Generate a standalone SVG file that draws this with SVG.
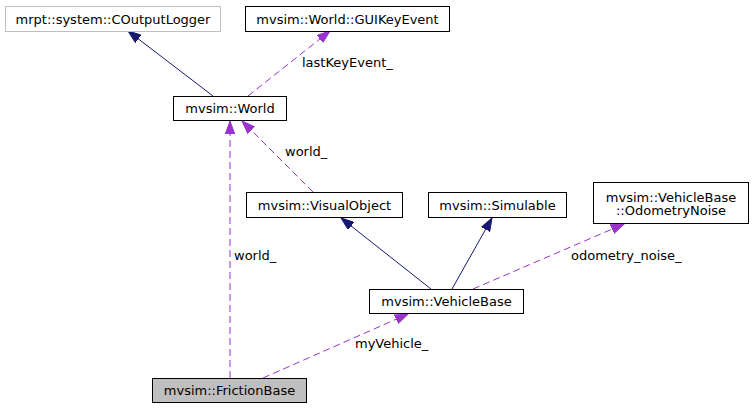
<svg xmlns="http://www.w3.org/2000/svg" width="753" height="409" viewBox="0 0 753 409">
<style>
text{font-family:"DejaVu Sans","Liberation Sans",sans-serif;font-size:13px;fill:#000}
.n{text-anchor:middle}
.box{fill:#fff;stroke:#000;stroke-width:1}
.gray{fill:#fff;stroke:#bfbfbf;stroke-width:1}
.cur{fill:#bfbfbf;stroke:#000;stroke-width:1}
.inh{fill:none;stroke:#191970;stroke-width:1}
.use{fill:none;stroke:#9a32cd;stroke-width:1;stroke-dasharray:7,4}
</style>
<defs>
<marker id="ah" markerUnits="userSpaceOnUse" markerWidth="14" markerHeight="10" refX="13" refY="5" orient="auto"><path d="M0,0.3 L13,5 L0,9.7 Z" fill="#191970" stroke="#191970"/></marker>
<marker id="ap" markerUnits="userSpaceOnUse" markerWidth="14" markerHeight="10" refX="13" refY="5" orient="auto"><path d="M0,0.3 L13,5 L0,9.7 Z" fill="#9a32cd" stroke="#9a32cd"/></marker>
</defs>
<g id="connectors">
<path class="inh" d="M213,96 L128,31" marker-end="url(#ah)"/>
<path class="use" d="M248,96 L330,31" marker-end="url(#ap)"/>
<text x="302" y="67">lastKeyEvent_</text>
<path class="use" d="M313,192 L242,121" marker-end="url(#ap)"/>
<text x="285" y="156">world_</text>
<path class="use" d="M230,378 L230,121" marker-end="url(#ap)"/>
<text x="234" y="260">world_</text>
<path class="inh" d="M431,289 L341,218" marker-end="url(#ah)"/>
<path class="inh" d="M452,289 L492,218" marker-end="url(#ah)"/>
<path class="use" d="M473,289 L624,224" marker-end="url(#ap)"/>
<text x="571" y="260">odometry_noise_</text>
<path class="use" d="M263,378 L408,314" marker-end="url(#ap)"/>
<text x="355" y="348">myVehicle_</text>
</g>
<g id="COutputLogger"><rect class="gray" x="5.5" y="6.5" width="215" height="25"/><text class="n" x="113" y="23.5">mrpt::system::COutputLogger</text></g>
<g id="GUIKeyEvent"><rect class="box" x="245.5" y="6.5" width="204" height="25"/><text class="n" x="347.5" y="23.5">mvsim::World::GUIKeyEvent</text></g>
<g id="World"><rect class="box" x="173.5" y="96.5" width="113" height="24"/><text class="n" x="230" y="113">mvsim::World</text></g>
<g id="VisualObject"><rect class="box" x="246.5" y="192.5" width="156" height="25"/><text class="n" x="324.5" y="209.5">mvsim::VisualObject</text></g>
<g id="Simulable"><rect class="box" x="428.5" y="192.5" width="138" height="25"/><text class="n" x="497.5" y="209.5">mvsim::Simulable</text></g>
<g id="OdometryNoise"><rect class="box" x="593.5" y="182.5" width="155" height="41"/><text class="n" x="671" y="201.5">mvsim::VehicleBase</text><text class="n" x="671" y="215">::OdometryNoise</text></g>
<g id="VehicleBase"><rect class="box" x="369.5" y="289.5" width="154" height="24"/><text class="n" x="446.5" y="306">mvsim::VehicleBase</text></g>
<g id="FrictionBase"><rect class="cur" x="152.5" y="378.5" width="154" height="24"/><text class="n" x="229.5" y="395">mvsim::FrictionBase</text></g>
</svg>
